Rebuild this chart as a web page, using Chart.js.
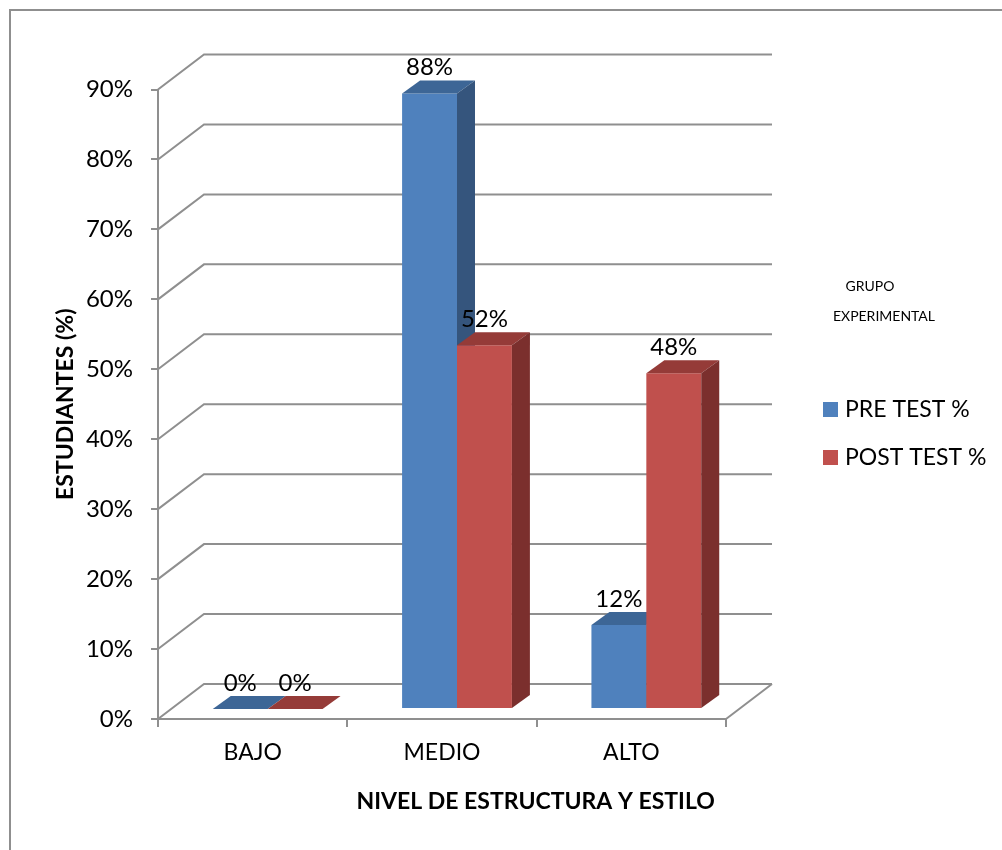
<!DOCTYPE html>
<html>
<head>
<meta charset="utf-8">
<script src="https://cdn.jsdelivr.net/npm/chart.js@4/dist/chart.umd.min.js"></script>
<style>
    body { margin: 0; background: #fff; }
    canvas { display: block; }
</style>
</head>
<body>
<canvas id="grafico" width="1002" height="850"></canvas>
<script>
// dados
const categorias = ['BAJO', 'MEDIO', 'ALTO']
const preTest = [0, 88, 12]
const postTest = [0, 52, 48]
const rotulosSerie = ['PRE TEST %', 'POST TEST %']
const escalaY = { min: 0, max: 90, passo: 10 }

// efeito 3D (fundo da grade, deslocamento e profundidade das barras)
const fundo = { dx: 46, dy: -35 }
const desloc = { dx: 15, dy: -10 }
const prof = { dx: 18, dy: -13 }
const cinza = '#8f8f8f'
const fonte = 'Lato, "Open Sans", sans-serif'

const barras3d = {
    id: 'barras3d',
    beforeDatasetsDraw(chart) {
        const ctx = chart.ctx
        const y = chart.scales.y
        const a = chart.chartArea
        ctx.save()
        ctx.strokeStyle = cinza
        ctx.lineWidth = 2
        y.ticks.forEach(t => {
            const py = y.getPixelForValue(t.value)
            ctx.beginPath()
            ctx.moveTo(a.left, py)
            ctx.lineTo(a.left + fundo.dx, py + fundo.dy)
            ctx.lineTo(a.right + fundo.dx, py + fundo.dy)
            ctx.stroke()
        })
        // borda direita do piso
        const p0 = y.getPixelForValue(0)
        ctx.beginPath()
        ctx.moveTo(a.right, p0)
        ctx.lineTo(a.right + fundo.dx, p0 + fundo.dy)
        ctx.stroke()
        ctx.restore()
    },
    // as barras são desenhadas todas juntas no afterDatasetsDraw, na ordem certa
    beforeDatasetDraw() {
        return false
    },
    afterDatasetsDraw(chart) {
        const ctx = chart.ctx
        chart.data.datasets.forEach((ds, d) => {
            const meta = chart.getDatasetMeta(d)
            ctx.save()
            ctx.translate(desloc.dx, desloc.dy)
            meta.data.forEach((bar, i) => {
                const { x, y, width, base } = bar.getProps(['x', 'y', 'width', 'base'], true)
                const l = x - width / 2
                const r = x + width / 2
                bar.draw(ctx)
                // topo
                ctx.fillStyle = ds.corTopo
                ctx.beginPath()
                ctx.moveTo(l, y)
                ctx.lineTo(r, y)
                ctx.lineTo(r + prof.dx, y + prof.dy)
                ctx.lineTo(l + prof.dx, y + prof.dy)
                ctx.closePath()
                ctx.fill()
                // lado
                if (base - y > 0.5) {
                    ctx.fillStyle = ds.corLado
                    ctx.beginPath()
                    ctx.moveTo(r, y)
                    ctx.lineTo(r + prof.dx, y + prof.dy)
                    ctx.lineTo(r + prof.dx, base + prof.dy)
                    ctx.lineTo(r, base)
                    ctx.closePath()
                    ctx.fill()
                }
                // rótulo
                ctx.fillStyle = '#000'
                ctx.font = '24px ' + fonte
                ctx.textAlign = 'center'
                ctx.textBaseline = 'alphabetic'
                ctx.fillText(ds.data[i] + '%', x, y + prof.dy - 5)
            })
            ctx.restore()
        })
    },
    afterDraw(chart) {
        const ctx = chart.ctx
        ctx.save()
        // moldura
        ctx.strokeStyle = cinza
        ctx.lineWidth = 2
        ctx.beginPath()
        ctx.moveTo(10, 850)
        ctx.lineTo(10, 10)
        ctx.lineTo(1002, 10)
        ctx.stroke()

        // título do grupo
        ctx.fillStyle = '#000'
        ctx.font = '14px ' + fonte
        ctx.textAlign = 'center'
        ctx.textBaseline = 'middle'
        ctx.fillText('GRUPO', 870, 286)
        ctx.fillText('EXPERIMENTAL', 884, 316)

        // legenda
        ctx.font = '23px ' + fonte
        ctx.textAlign = 'left'
        chart.data.datasets.forEach((ds, i) => {
            const ly = 402 + i * 48
            ctx.fillStyle = ds.backgroundColor
            ctx.fillRect(823, ly, 15, 15)
            ctx.fillStyle = '#000'
            ctx.fillText(ds.label, 845, ly + 8)
        })
        ctx.restore()
    }
}

new Chart(document.getElementById('grafico'), {
    type: 'bar',
    data: {
        labels: categorias,
        datasets: [
            {
                label: rotulosSerie[0],
                data: preTest,
                backgroundColor: '#4F81BD',
                corTopo: '#3D6696',
                corLado: '#35557D',
                borderWidth: 0
            },
            {
                label: rotulosSerie[1],
                data: postTest,
                backgroundColor: '#C0504D',
                corTopo: '#953B38',
                corLado: '#7B2F2D',
                borderWidth: 0
            }
        ]
    },
    options: {
        responsive: false,
        animation: false,
        events: [],
        layout: {
            padding: { top: 89.5, right: 276, bottom: 35, left: 52 }
        },
        datasets: {
            bar: { categoryPercentage: 0.58, barPercentage: 1 }
        },
        plugins: {
            legend: { display: false },
            tooltip: { enabled: false }
        },
        scales: {
            x: {
                grid: { display: true, drawOnChartArea: false, tickLength: 8, color: cinza, lineWidth: 2 },
                border: { display: true, color: cinza, width: 2 },
                ticks: { color: '#000', font: { family: fonte, size: 23 }, padding: 12 },
                title: {
                    display: true,
                    align: 'end',
                    text: 'NIVEL DE ESTRUCTURA Y ESTILO  ',
                    color: '#000',
                    font: { family: fonte, size: 23, weight: 'bold' },
                    padding: 0
                },
                afterFit(scale) { scale.height = 96 }
            },
            y: {
                min: escalaY.min,
                max: escalaY.max,
                grid: { display: true, drawOnChartArea: false, tickLength: 7, color: cinza, lineWidth: 2 },
                border: { display: true, color: cinza, width: 2 },
                ticks: {
                    stepSize: escalaY.passo,
                    color: '#000',
                    font: { family: fonte, size: 24 },
                    padding: 18,
                    callback: function (value) {
                        return value + '%'
                    }
                },
                title: {
                    display: true,
                    text: 'ESTUDIANTES (%)',
                    color: '#000',
                    font: { family: fonte, size: 23, weight: 'bold' },
                    padding: 0
                },
                afterFit(scale) { scale.width = 106 }
            }
        }
    },
    plugins: [barras3d]
})
</script>
</body>
</html>
